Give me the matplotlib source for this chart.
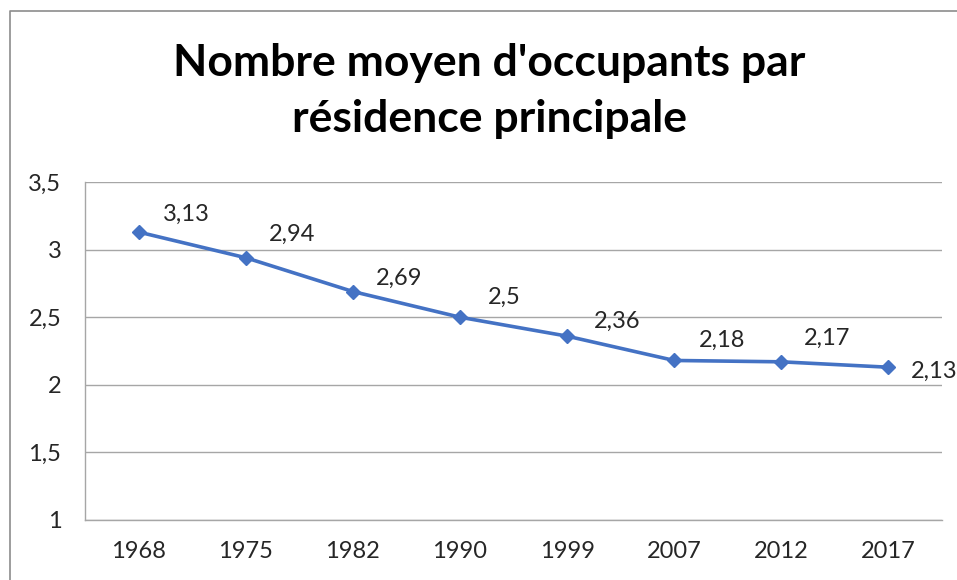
import matplotlib
matplotlib.use("Agg")
import matplotlib.pyplot as plt
from matplotlib.lines import Line2D

years = ["1968", "1975", "1982", "1990", "1999", "2007", "2012", "2017"]
occupants = [3.13, 2.94, 2.69, 2.50, 2.36, 2.18, 2.17, 2.13]
value_labels = ["3,13", "2,94", "2,69", "2,5", "2,36", "2,18", "2,17", "2,13"]
y_ticks = [1, 1.5, 2, 2.5, 3, 3.5]
y_tick_labels = ["1", "1,5", "2", "2,5", "3", "3,5"]
title = "Nombre moyen d'occupants par\nrésidence principale"

# label offsets in pixels (dx to text left edge, dy to text centre), relative to each point
label_offsets = [(24, 20), (23, 25), (23, 15), (28, 22), (27, 17), (25, 22), (23, 25), (22, -2)]

W, H = 957, 580
plt.rcParams['font.family'] = ['Lato', 'DejaVu Sans']
fig = plt.figure(figsize=(W / 100, H / 100), dpi=100)
fig.patch.set_facecolor("white")

ax = fig.add_axes([85 / W, 1 - 520 / H, (942 - 85) / W, (520 - 182) / H])
x = list(range(len(years)))
ax.plot(x, occupants, color="#4472C4", linewidth=2.6, marker="D", markersize=7,
        markerfacecolor="#4472C4", markeredgecolor="#4472C4", zorder=3, clip_on=False)

for xi, yi, lab, (dx, dy) in zip(x, occupants, value_labels, label_offsets):
    ax.annotate(lab, (xi, yi), xytext=(dx * 0.72, dy * 0.72), textcoords="offset points",
                ha="left", va="center_baseline", fontsize=17, color="#262626",
                annotation_clip=False)

ax.set_xlim(-0.5, len(years) - 0.5)
ax.set_ylim(1, 3.5)
ax.set_yticks(y_ticks)
ax.set_yticklabels(y_tick_labels)
ax.set_xticks(x)
ax.set_xticklabels(years)
ax.tick_params(axis="both", length=0, labelsize=17, colors="#262626")
ax.tick_params(axis="y", pad=17)
ax.tick_params(axis="x", pad=15)
ax.grid(axis="y", color="#A6A6A6", linewidth=1)
ax.set_axisbelow(True)
for side in ["top", "right"]:
    ax.spines[side].set_visible(False)
for side in ["left", "bottom"]:
    ax.spines[side].set_color("#A6A6A6")
    ax.spines[side].set_linewidth(1)

fig.text(489 / W, 1 - 91 / H, title, ha="center", va="center", fontsize=32,
         fontweight="bold", color="black", linespacing=1.5)

# outer chart border (left and top edges)
fig.add_artist(Line2D([10 / W, 10 / W, 1], [0, 1 - 11 / H, 1 - 11 / H],
                      transform=fig.transFigure, color="#8C8C8C", linewidth=1.2))

fig.savefig("out.png", dpi=100, facecolor="white")
